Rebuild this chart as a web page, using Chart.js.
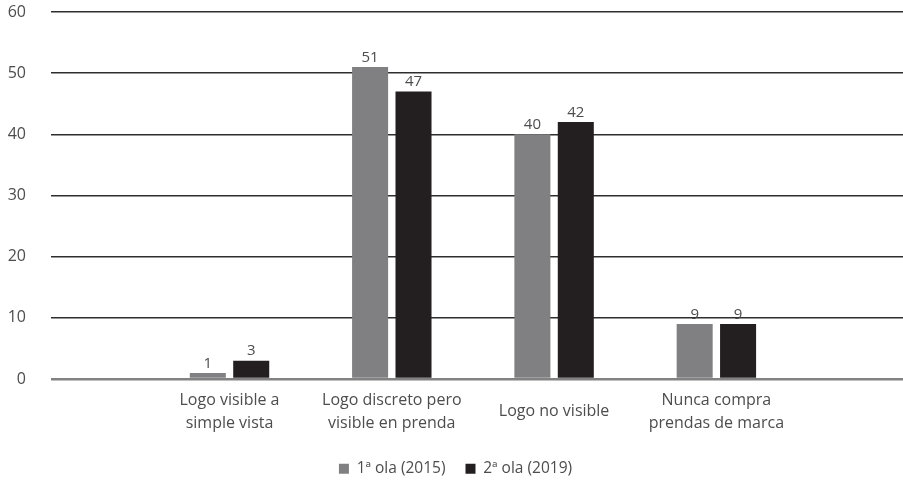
<!DOCTYPE html>
<html>
<head>
<meta charset="utf-8">
<script src="https://cdn.jsdelivr.net/npm/chart.js@4"></script>
<style>
  html, body { margin: 0; padding: 0; background: #fff; }
  #wrap { width: 903px; height: 482px; }
</style>
</head>
<body>
<div id="wrap"><canvas id="barChart"></canvas></div>
<script>
// categorias (etiquetas en varias lineas)
const categories = [
  ["Logo visible a", "simple vista"],
  ["Logo discreto pero", "visible en prenda"],
  "Logo no visible",
  ["Nunca compra", "prendas de marca"],
];
const ola2015 = [1, 51, 40, 9];
const ola2019 = [3, 47, 42, 9];
const yTicks = [0, 10, 20, 30, 40, 50, 60];

const textColor = "#4d4d4d";
const font = "'Open Sans', 'Noto Sans', sans-serif";

// numeros encima de cada barra
const valueLabels = {
  id: "valueLabels",
  afterDatasetsDraw(chart) {
    const { ctx } = chart;
    ctx.save();
    ctx.font = "15px " + font;
    ctx.fillStyle = textColor;
    ctx.textAlign = "center";
    ctx.textBaseline = "bottom";
    chart.data.datasets.forEach((ds, di) => {
      chart.getDatasetMeta(di).data.forEach((bar, i) => {
        ctx.fillText(ds.data[i].y, bar.x, bar.y - 2);
      });
    });
    ctx.restore();
  },
};

// leyenda mas baja sin perder la separacion entre items
const legendFit = {
  id: "legendFit",
  afterInit(chart) {
    const fit = chart.legend.fit;
    chart.legend.fit = function () {
      fit.call(this);
      this.height = 41;
    };
  },
};

function barChart() {
  const ctx = document.getElementById("barChart");
  if (!ctx) return;

  const myChart = new Chart(ctx, {
    type: "bar",
    data: {
      datasets: [
        {
          label: "1ª ola (2015)",
          data: ola2015.map((v, i) => ({ x: i, y: v })),
          backgroundColor: "#808083",
        },
        {
          label: "2ª ola (2019)",
          data: ola2019.map((v, i) => ({ x: i, y: v })),
          backgroundColor: "#231f20",
        },
      ],
    },
    options: {
      responsive: true,
      maintainAspectRatio: false,
      animation: false,
      categoryPercentage: 0.535,
      barPercentage: 0.83,
      layout: {
        padding: { top: 12, left: 8, right: 0, bottom: 0 },
      },
      plugins: {
        legend: {
          position: "bottom",
          labels: {
            boxWidth: 10,
            boxHeight: 10,
            padding: 20,
            color: textColor,
            font: { family: font, size: 15.5 },
          },
        },
        tooltip: { enabled: false },
      },
      scales: {
        x: {
          type: "linear",
          offset: false,
          min: -1.1,
          max: 4.15,
          grid: { display: false, offset: false },
          border: { display: false },
          afterBuildTicks: (scale) => {
            scale.ticks = categories.map((c, i) => ({ value: i }));
          },
          afterFit: (scale) => {
            scale.height = 62;
          },
          ticks: {
            padding: 13,
            color: textColor,
            crossAlign: "center",
            font: { family: font, size: 16, lineHeight: 1.45 },
            callback: (v) => categories[v],
          },
        },
        y: {
          min: 0,
          max: 60,
          border: { display: false },
          afterBuildTicks: (scale) => {
            scale.ticks = yTicks.map((v) => ({ value: v }));
          },
          afterFit: (scale) => {
            scale.width = 43;
            scale.paddingTop = 0;
            scale.paddingBottom = 0;
          },
          grid: {
            drawTicks: false,
            color: (c) => (c.tick.value === 0 ? "#828282" : "#2e2e2e"),
            lineWidth: (c) => (c.tick.value === 0 ? 2.5 : 1.4),
          },
          ticks: {
            padding: 25,
            color: textColor,
            font: { family: font, size: 16 },
          },
        },
      },
    },
    plugins: [valueLabels, legendFit],
  });
}

barChart();
</script>
</body>
</html>
